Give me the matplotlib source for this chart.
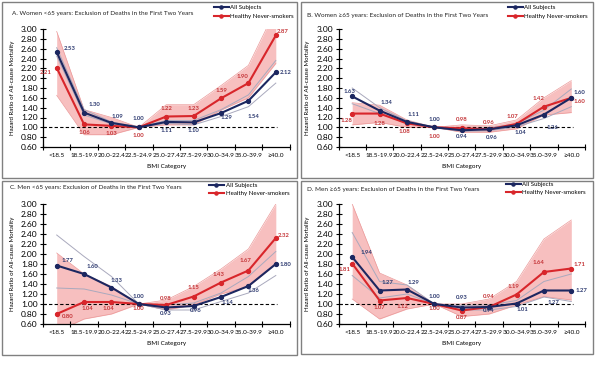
import numpy as np
import matplotlib.pyplot as plt
from matplotlib.patches import Rectangle

plt.rcParams['font.family'] = ['Lato', 'DejaVu Sans']

categories = ['<18.5', '18.5-19.9', '20.0-22.4', '22.5-24.9', '25.0-27.4',
              '27.5-29.9', '30.0-34.9', '35.0-39.9', '\u226540.0']

titles = ['A. Women <65 years: Exclusion of Deaths in the First Two Years',
          'B. Women \u226565 years: Exclusion of Deaths in the First Two Years',
          'C. Men <65 years: Exclusion of Deaths in the First Two Years',
          'D. Men \u226565 years: Exclusion of Deaths in the First Two Years']

# hazard ratios, all subjects
all_a = [2.53, 1.30, 1.09, 1.00, 1.11, 1.10, 1.29, 1.54, 2.12]
all_b = [1.63, 1.34, 1.11, 1.00, 0.94, 0.96, 1.04, 1.26, 1.60]
all_c = [1.77, 1.60, 1.33, 1.00, 0.93, 0.96, 1.14, 1.36, 1.80]
all_d = [1.94, 1.27, 1.29, 1.00, 0.93, 0.94, 1.01, 1.27, 1.27]

# confidence bounds, all subjects
all_lo_a = [2.45, 1.25, 1.07, 1.00, 1.08, 1.05, 1.22, 1.42, 1.90]
all_hi_a = [2.62, 1.36, 1.11, 1.00, 1.14, 1.14, 1.36, 1.66, 2.36]
all_lo_b = [1.48, 1.28, 1.08, 1.00, 0.92, 0.93, 1.01, 1.18, 1.42]
all_hi_b = [1.80, 1.40, 1.13, 1.00, 0.97, 0.99, 1.07, 1.35, 1.78]
all_lo_c = [1.32, 1.30, 1.18, 1.00, 0.88, 0.88, 1.05, 1.22, 1.57]
all_hi_c = [2.38, 1.95, 1.55, 1.00, 0.98, 1.02, 1.22, 1.55, 2.05]
all_lo_d = [1.57, 1.12, 1.20, 1.00, 0.88, 0.88, 0.95, 1.14, 1.05]
all_hi_d = [2.43, 1.45, 1.38, 1.00, 0.97, 0.98, 1.07, 1.45, 1.60]

# hazard ratios, healthy never-smokers
hns_a = [2.21, 1.06, 1.03, 1.00, 1.22, 1.23, 1.59, 1.90, 2.87]
hns_b = [1.28, 1.28, 1.08, 1.00, 0.98, 0.96, 1.07, 1.42, 1.60]
hns_c = [0.80, 1.04, 1.04, 1.00, 0.98, 1.15, 1.43, 1.67, 2.32]
hns_d = [1.81, 1.07, 1.12, 1.00, 0.87, 0.94, 1.19, 1.64, 1.71]

# confidence bounds, healthy never-smokers
hns_lo_a = [1.65, 0.85, 0.85, 1.00, 1.05, 1.05, 1.35, 1.60, 2.30]
hns_hi_a = [2.95, 1.36, 1.20, 1.00, 1.46, 1.46, 1.85, 2.26, 3.40]
hns_lo_b = [1.05, 1.10, 1.00, 1.00, 0.90, 0.90, 0.97, 1.25, 1.30]
hns_hi_b = [1.50, 1.45, 1.15, 1.00, 1.05, 1.03, 1.15, 1.60, 1.95]
hns_lo_c = [0.45, 0.70, 0.80, 1.00, 0.88, 0.98, 1.20, 1.35, 1.80]
hns_hi_c = [2.02, 1.60, 1.35, 1.00, 1.08, 1.35, 1.70, 2.10, 3.00]
hns_lo_d = [1.10, 0.70, 0.90, 1.00, 0.75, 0.80, 0.98, 1.15, 1.08]
hns_hi_d = [3.00, 1.62, 1.38, 1.00, 1.00, 1.10, 1.45, 2.30, 2.68]

# data label offsets in pixels (dx, dy)
off_all_a = [(13, 4), (10, 8), (6, 6), (0, 9), (0, -9), (0, -8), (5, -4), (5, -16), (10, 0)]
off_hns_a = [(-11, -5), (0, -8), (0, -8), (0, -8), (0, 8), (0, 8), (0, 8), (-6, 7), (7, 4)]
off_all_b = [(-3, 5), (7, 8), (7, 7), (0, 8), (0, -6), (3, -8), (4, -7), (9, -13), (8, 5)]
off_hns_b = [(-6, -7), (0, -10), (-3, -8), (0, -9), (0, 9), (0, 7), (-4, 7), (-5, 8), (8, -4)]
off_all_c = [(11, 5), (8, 8), (5, 7), (0, 8), (0, -6), (2, -5), (6, -6), (5, -5), (10, 0)]
off_hns_c = [(11, -3), (3, -6), (-3, -6), (0, -5), (0, 7), (0, 9), (-3, 8), (-3, 10), (8, 3)]
off_all_d = [(14, 5), (8, 8), (7, 7), (0, 8), (0, 10), (0, -4), (6, -6), (10, -12), (10, 0)]
off_hns_d = [(-8, -6), (0, -7), (-4, -9), (0, -5), (0, -7), (0, 10), (-3, 8), (-5, 10), (8, 4)]

panels = [
    (titles[0], all_a, all_lo_a, all_hi_a, hns_a, hns_lo_a, hns_hi_a, off_all_a, off_hns_a),
    (titles[1], all_b, all_lo_b, all_hi_b, hns_b, hns_lo_b, hns_hi_b, off_all_b, off_hns_b),
    (titles[2], all_c, all_lo_c, all_hi_c, hns_c, hns_lo_c, hns_hi_c, off_all_c, off_hns_c),
    (titles[3], all_d, all_lo_d, all_hi_d, hns_d, hns_lo_d, hns_hi_d, off_all_d, off_hns_d),
]

W, H = 600, 365
fig = plt.figure(figsize=(6, 3.65), dpi=100)

# axes rectangles in pixels: left, top, right, bottom
ax_px = [(43, 29, 289.5, 147), (338.5, 29, 585, 147),
         (43, 204, 289.5, 324), (338.5, 204, 585, 324)]
box_px = [(2, 2, 297, 178), (301, 2, 593, 178),
          (2, 181, 297, 355), (301, 181, 593, 354)]
title_px = [(12, 14), (307, 15), (10, 188), (307, 189)]
legend_px = [(214, 5), (508, 5), (209, 182.5), (506, 181.5)]

navy = '#1c2760'
red = '#d8262b'
pink = '#f6b4b4'
ci_gray = '#a9a9bd'

for i, (title, a, alo, ahi, h, hlo, hhi, oa, oh) in enumerate(panels):
    bx0, by0, bx1, by1 = box_px[i]
    fig.patches.append(Rectangle((bx0 / W, 1 - by1 / H), (bx1 - bx0) / W, (by1 - by0) / H,
                                 transform=fig.transFigure, fill=False,
                                 edgecolor='#808080', linewidth=1.0))
    l, t, r, b = ax_px[i]
    ax = fig.add_axes([l / W, 1 - b / H, (r - l) / W, (b - t) / H])
    x = np.arange(len(categories))

    ax.fill_between(x, hlo, hhi, color=pink, alpha=0.85, linewidth=0, zorder=1)
    ax.plot(x, hlo, color='#eb9a9a', linewidth=0.5, zorder=1.5)
    ax.plot(x, hhi, color='#eb9a9a', linewidth=0.5, zorder=1.5)
    ax.plot(x, alo, color=ci_gray, linewidth=0.7, zorder=2)
    ax.plot(x, ahi, color=ci_gray, linewidth=0.7, zorder=2)
    ax.plot([-0.5, 8.05], [1, 1], color='black', linestyle=(0, (3, 2)), linewidth=0.8, zorder=2.5)

    la, = ax.plot(x, a, color=navy, linewidth=1.5, marker='o', markersize=2.8, zorder=4,
                  label='All Subjects')
    lh, = ax.plot(x, h, color=red, linewidth=1.5, marker='o', markersize=2.8, zorder=3,
                  label='Healthy Never-smokers')

    for xi, v, (dx, dy) in zip(x, a, oa):
        ax.annotate(f'{v:.2f}', (xi, v), xytext=(dx * 0.72, dy * 0.72), textcoords='offset points',
                    ha='center', va='center', fontsize=4.3, fontweight='bold', color='#2d3a70', zorder=6)
    for xi, v, (dx, dy) in zip(x, h, oh):
        ax.annotate(f'{v:.2f}', (xi, v), xytext=(dx * 0.72, dy * 0.72), textcoords='offset points',
                    ha='center', va='center', fontsize=4.3, fontweight='bold', color='#c43538', zorder=6)

    ax.set_xlim(-0.5, 8.5)
    ax.set_ylim(0.6, 3.0)
    ax.set_yticks(np.arange(0.6, 3.01, 0.2))
    ax.set_yticklabels([f'{v:.2f}' for v in np.arange(0.6, 3.01, 0.2)], fontsize=6)
    ax.set_xticks(x)
    ax.set_xticklabels(categories, fontsize=4.6)
    ax.set_xticks(np.arange(-0.5, 8.6, 1), minor=True)
    ax.tick_params(axis='x', which='major', length=0, pad=4.5)
    ax.tick_params(axis='x', which='minor', direction='inout', length=4, width=0.8)
    ax.tick_params(axis='y', direction='inout', length=5, width=0.8, pad=1.5)
    for s in ['top', 'right']:
        ax.spines[s].set_visible(False)
    ax.spines['left'].set_linewidth(0.9)
    ax.spines['bottom'].set_linewidth(0.9)
    ax.set_xlabel('BMI Category', fontsize=4.6)
    ax.xaxis.set_label_coords(0.5, -0.14)
    ax.set_ylabel('Hazard Ratio of All-cause Mortality', fontsize=4.4)
    ax.yaxis.set_label_coords(-0.115, 0.5)

    tx, ty = title_px[i]
    fig.text(tx / W, 1 - ty / H, title, fontsize=4.6, ha='left', va='center', color='#222222')
    lx, ly = legend_px[i]
    ax.legend(handles=[la, lh], loc='upper left', bbox_to_anchor=(lx / W, 1 - ly / H),
              bbox_transform=fig.transFigure, frameon=False, fontsize=4.4,
              handlelength=2.4, handletextpad=0.3, labelspacing=0.55, borderpad=0,
              borderaxespad=0, markerscale=0.8)

fig.savefig('out.png', dpi=100)
